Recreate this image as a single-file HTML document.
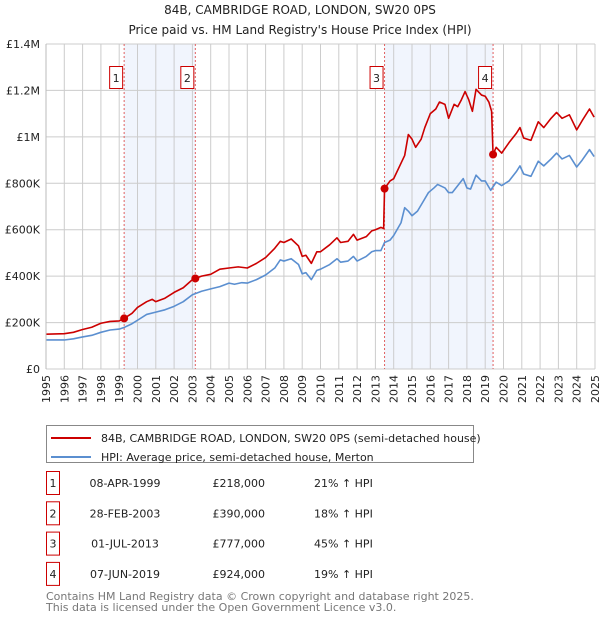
<!DOCTYPE html>
<html><head><meta charset="utf-8"><style>
body{margin:0;background:#fff;font-family:"Liberation Sans","DejaVu Sans",sans-serif;}
svg text{font-family:"DejaVu Sans","Liberation Sans",sans-serif;}
</style></head><body>
<svg id="c" width="600" height="620" xmlns="http://www.w3.org/2000/svg">
<text x="300" y="14" text-anchor="middle" font-size="12" fill="#222">84B, CAMBRIDGE ROAD, LONDON, SW20 0PS</text>
<text x="300" y="34" text-anchor="middle" font-size="12" fill="#222">Price paid vs. HM Land Registry's House Price Index (HPI)</text>
<g id="plot"></g>
<g>
<rect x="46.5" y="425.5" width="427" height="37" fill="#fff" stroke="#888"/>
<line x1="51" y1="438" x2="91" y2="438" stroke="#cc0000" stroke-width="2"/>
<text x="101" y="442" font-size="11" fill="#222">84B, CAMBRIDGE ROAD, LONDON, SW20 0PS (semi-detached house)</text>
<line x1="51" y1="457" x2="91" y2="457" stroke="#5b8fd0" stroke-width="2"/>
<text x="101" y="461" font-size="11" fill="#222">HPI: Average price, semi-detached house, Merton</text>
</g>
<g id="table"></g>
<text x="46" y="600" font-size="11" fill="#777">Contains HM Land Registry data © Crown copyright and database right 2025.</text>
<text x="46" y="611" font-size="11" fill="#777">This data is licensed under the Open Government Licence v3.0.</text>
</svg>
<script>
const hpiYears=[1995,1996,1996.5,1997,1997.5,1998,1998.5,1999,1999.3,1999.7,2000,2000.5,2001,2001.5,2002,2002.5,2003,2003.5,2004,2004.5,2005,2005.3,2005.7,2006,2006.5,2007,2007.5,2007.8,2008,2008.4,2008.8,2009,2009.2,2009.5,2009.8,2010,2010.5,2010.9,2011.1,2011.5,2011.8,2012,2012.5,2012.8,2013,2013.3,2013.5,2013.8,2014,2014.4,2014.6,2014.8,2015,2015.3,2015.6,2015.9,2016.2,2016.4,2016.8,2017,2017.2,2017.5,2017.8,2018,2018.2,2018.5,2018.8,2019,2019.3,2019.6,2019.9,2020.3,2020.7,2020.9,2021.1,2021.5,2021.9,2022.2,2022.6,2022.9,2023.2,2023.6,2024,2024.3,2024.7,2024.95];
const hpiValues=[125,125,130,138,145,158,168,172,180,195,210,235,245,255,270,290,320,335,345,355,370,365,372,370,385,405,435,470,465,475,450,410,415,385,425,430,450,475,460,465,485,465,485,505,510,510,545,555,575,630,695,680,660,680,720,760,780,795,780,760,760,790,820,780,775,835,810,810,770,805,790,810,850,875,840,830,895,875,905,930,905,920,870,900,945,915];
const priceYears=[1995,1996,1996.5,1997,1997.5,1998,1998.5,1999,1999.27,1999.7,2000,2000.5,2000.8,2001,2001.5,2002,2002.5,2003,2003.16,2003.5,2004,2004.5,2005,2005.5,2006,2006.5,2007,2007.5,2007.8,2008,2008.4,2008.8,2009,2009.2,2009.5,2009.8,2010,2010.5,2010.9,2011.1,2011.5,2011.8,2012,2012.5,2012.8,2013,2013.3,2013.45,2013.5,2013.8,2014,2014.3,2014.6,2014.8,2015,2015.2,2015.5,2015.7,2016,2016.3,2016.5,2016.8,2017,2017.3,2017.5,2017.7,2017.9,2018.1,2018.3,2018.5,2018.8,2019,2019.2,2019.35,2019.43,2019.6,2019.9,2020.3,2020.7,2020.9,2021.1,2021.5,2021.9,2022.2,2022.6,2022.9,2023.2,2023.6,2024,2024.3,2024.7,2024.95];
const priceValues=[150,152,158,170,180,197,205,207,218,240,265,290,300,290,305,330,350,385,390,400,408,430,435,440,435,455,480,520,550,545,560,530,485,490,455,505,505,535,565,545,550,580,555,570,595,600,610,605,777,810,820,870,920,1010,990,955,990,1040,1100,1120,1150,1140,1080,1140,1130,1160,1195,1160,1110,1205,1180,1175,1150,1110,924,955,930,975,1015,1040,995,985,1065,1040,1080,1105,1080,1095,1030,1070,1120,1085];
const saleLabels=["1","2","3","4"];
const saleYears=[1999.27,2003.16,2013.5,2019.43];
const saleValues=[218,390,777,924];
const saleDates=["08-APR-1999","28-FEB-2003","01-JUL-2013","07-JUN-2019"];
const salePrices=["£218,000","£390,000","£777,000","£924,000"];
const salePct=["21% ↑ HPI","18% ↑ HPI","45% ↑ HPI","19% ↑ HPI"];
const yTicks=[0,200,400,600,800,1000,1200,1400];
const yTickLabels=["£0","£200K","£400K","£600K","£800K","£1M","£1.2M","£1.4M"];
const NS="http://www.w3.org/2000/svg";
const X0=46,X1=595,Y0=369,Y1=44;
const xs=y=>X0+(y-1995)/30*(X1-X0);
const ys=v=>Y0-v/1400*(Y0-Y1);
const g=document.getElementById('plot');
function mk(t,a,p){const e=document.createElementNS(NS,t);for(const k in a)e.setAttribute(k,a[k]);(p||g).appendChild(e);return e;}
for(let i=0;i<2;i++){const a=saleYears[i*2],b=saleYears[i*2+1];
const r=mk('rect',{x:xs(a),y:Y1,width:xs(b)-xs(a),height:Y0-Y1,fill:'#eef3fc',opacity:0.8});

}
for(let yr=1995;yr<=2025;yr++){const l=mk('line',{x1:xs(yr),x2:xs(yr),y1:Y1,y2:Y0,stroke:'#ccc'});


const t=mk('text',{x:0,y:0,'font-size':11,fill:'#222','text-anchor':'end',transform:`translate(${xs(yr)+4},${Y0+6}) rotate(-90)`});t.textContent=yr;

}
yTicks.forEach((v,i)=>{const l=mk('line',{x1:X0,x2:X1,y1:ys(v),y2:ys(v),stroke:'#ccc'});


const t=mk('text',{x:40,y:ys(v)+4,'font-size':11,fill:'#222','text-anchor':'end'});t.textContent=yTickLabels[i];

});
saleYears.forEach((yr,i)=>{const l=mk('line',{x1:xs(yr),x2:xs(yr),y1:Y1,y2:Y0,stroke:'#e06060','stroke-dasharray':'2,2'});


const r=mk('rect',{x:xs(yr)-14.5,y:66.5,width:13,height:22,fill:'#fff',stroke:'#cc0000'});


const t=mk('text',{x:xs(yr)-8,y:82,'font-size':11,fill:'#222','text-anchor':'middle'});t.textContent=saleLabels[i];

});
function line(xa,va,col,name){const p=mk('polyline',{points:xa.map((x,i)=>xs(x)+','+ys(va[i])).join(' '),fill:'none',stroke:col,'stroke-width':1.6,'stroke-linejoin':'round'});

}
line(hpiYears,hpiValues,'#5b8fd0','hpi-line');
line(priceYears,priceValues,'#cc0000','price-line');
saleYears.forEach((yr,i)=>{const c=mk('circle',{cx:xs(yr),cy:ys(saleValues[i]),r:4,fill:'#cc0000'});

});
mk('line',{x1:X0,x2:X0,y1:Y1,y2:Y0,stroke:'#bbb'});
const tb=document.getElementById('table');
saleLabels.forEach((s,i)=>{const y=483+i*30.3;
const r=mk('rect',{x:46.5,y:y-11.5,width:13,height:23,fill:'#fff',stroke:'#cc0000'},tb);


const cells=[[53,s,'middle'],[125,saleDates[i],'middle'],[265,salePrices[i],'end'],[314,salePct[i],'start']];
cells.forEach(c=>{const t=mk('text',{x:c[0],y:y+4,'font-size':11,fill:'#222','text-anchor':c[2]},tb);t.textContent=c[1];

});});
</script>
</body></html>
